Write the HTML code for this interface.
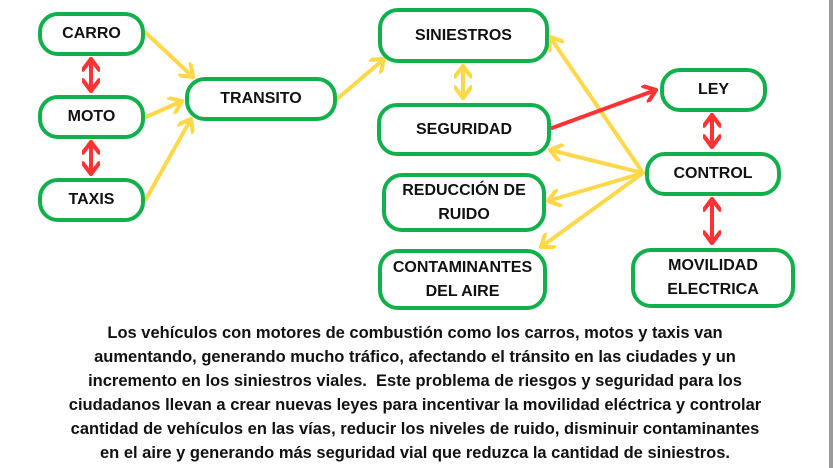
<!DOCTYPE html>
<html><head><meta charset="utf-8"><style>
html,body{margin:0;padding:0;background:#fff;width:833px;height:468px;overflow:hidden;position:relative;font-family:"Liberation Sans",sans-serif}
.n{position:absolute;box-sizing:border-box;border:4px solid #12b04c;border-radius:20px;display:flex;align-items:center;justify-content:center;text-align:center;font-weight:bold;font-size:16px;line-height:24px;color:#111;background:#fff}
svg{position:absolute;left:0;top:0}
.t{position:absolute;left:20px;width:790px;top:321px;text-align:center;font-weight:bold;font-size:16.5px;line-height:24px;color:#111}
.edge{position:absolute;left:829px;top:0;width:4px;height:468px;background:#999}
</style></head><body>
<svg width="833" height="468">
<defs>
<marker id="y" markerWidth="18" markerHeight="18" refX="8" refY="5" orient="auto-start-reverse" markerUnits="userSpaceOnUse" viewBox="0 0 10 10"><path d="M2,0.5 L8,5 L2,9.5" fill="none" stroke="#ffd84a" stroke-width="2.3" stroke-linecap="round" stroke-linejoin="round"/></marker>
<marker id="r" markerWidth="18" markerHeight="18" refX="8" refY="5" orient="auto-start-reverse" markerUnits="userSpaceOnUse" viewBox="0 0 10 10"><path d="M2,0.5 L8,5 L2,9.5" fill="none" stroke="#ff3333" stroke-width="2.3" stroke-linecap="round" stroke-linejoin="round"/></marker>
</defs>
<g stroke="#ffd84a" stroke-width="4" fill="none" stroke-linecap="round">
<line x1="146" y1="33" x2="193" y2="77" marker-end="url(#y)"/>
<line x1="146" y1="117" x2="182" y2="101" marker-end="url(#y)"/>
<line x1="146" y1="199" x2="191" y2="119" marker-end="url(#y)"/>
<line x1="337" y1="99" x2="384" y2="59" marker-end="url(#y)"/>
<line x1="643" y1="173" x2="550" y2="37" marker-end="url(#y)"/>
<line x1="643" y1="173" x2="550" y2="150" marker-end="url(#y)"/>
<line x1="643" y1="173" x2="548" y2="201" marker-end="url(#y)"/>
<line x1="643" y1="173" x2="541" y2="247" marker-end="url(#y)"/>
<line x1="463" y1="66" x2="463" y2="98" marker-start="url(#y)" marker-end="url(#y)"/>
</g>
<g stroke="#ff3333" stroke-width="4" fill="none" stroke-linecap="round">
<line x1="552" y1="128" x2="656" y2="90" marker-end="url(#r)"/>
<line x1="91" y1="59" x2="91" y2="91" marker-start="url(#r)" marker-end="url(#r)"/>
<line x1="91" y1="142" x2="91" y2="174" marker-start="url(#r)" marker-end="url(#r)"/>
<line x1="712" y1="115" x2="712" y2="147" marker-start="url(#r)" marker-end="url(#r)"/>
<line x1="712" y1="199" x2="712" y2="243" marker-start="url(#r)" marker-end="url(#r)"/>
</g>
</svg>
<div class="n" style="left:38px;top:12px;width:107px;height:44px">CARRO</div>
<div class="n" style="left:38px;top:95px;width:107px;height:44px">MOTO</div>
<div class="n" style="left:38px;top:178px;width:107px;height:44px">TAXIS</div>
<div class="n" style="left:185px;top:77px;width:152px;height:44px">TRANSITO</div>
<div class="n" style="left:378px;top:8px;width:171px;height:55px">SINIESTROS</div>
<div class="n" style="left:377px;top:103px;width:174px;height:53px">SEGURIDAD</div>
<div class="n" style="left:382px;top:173px;width:164px;height:59px">REDUCCIÓN DE<br>RUIDO</div>
<div class="n" style="left:378px;top:249px;width:169px;height:61px">CONTAMINANTES<br>DEL AIRE</div>
<div class="n" style="left:660px;top:68px;width:107px;height:44px">LEY</div>
<div class="n" style="left:645px;top:152px;width:136px;height:44px">CONTROL</div>
<div class="n" style="left:631px;top:248px;width:164px;height:60px">MOVILIDAD<br>ELECTRICA</div>
<div class="t">Los vehículos con motores de combustión como los carros, motos y taxis van<br>aumentando, generando mucho tráfico, afectando el tránsito en las ciudades y un<br>incremento en los siniestros viales.&nbsp; Este problema de riesgos y seguridad para los<br>ciudadanos llevan a crear nuevas leyes para incentivar la movilidad eléctrica y controlar<br>cantidad de vehículos en las vías, reducir los niveles de ruido, disminuir contaminantes<br>en el aire y generando más seguridad vial que reduzca la cantidad de siniestros.</div>
<div class="edge"></div>
</body></html>
